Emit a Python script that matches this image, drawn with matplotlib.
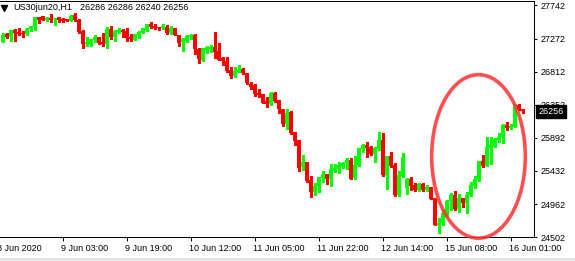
import numpy as np
import matplotlib.pyplot as plt
from matplotlib.patches import Ellipse, Rectangle
from matplotlib.lines import Line2D

plt.rcParams['font.family'] = ['Liberation Sans', 'DejaVu Sans']

# H1 candles, US30, 8-16 Jun 2020
opens = [27230, 27333, 27300, 27393, 27370, 27356, 27337, 27403, 27439, 27579,
         27589, 27533, 27561, 27543, 27571, 27547, 27543, 27523, 27603, 27533,
         27379, 27194, 27194, 27254, 27291, 27230, 27198, 27407, 27300, 27361,
         27393, 27384, 27300, 27254, 27323, 27347, 27393, 27477, 27453, 27431,
         27425, 27431, 27347, 27417, 27323, 27222, 27244, 27291, 27323, 27128,
         26975, 27114, 27128, 27152, 27100, 27007, 26961, 26835, 26751, 26803,
         26845, 26789, 26640, 26626, 26518, 26500, 26402, 26360, 26518, 26416,
         26291, 26081, 26245, 25965, 25858, 25485, 25555, 25300, 25136, 25216,
         25324, 25384, 25310, 25430, 25449, 25495, 25533, 25579, 25324, 25509,
         25728, 25788, 25756, 25658, 25728, 25858, 25370, 25635, 25509, 25090,
         25356, 25184, 25310, 25230, 25160, 25244, 25160, 25206, 25044, 24672,
         24695, 24787, 25000, 25090, 24891, 25042, 24975, 25090, 25216, 25300,
         25565, 25502, 25746, 25764, 25858, 25893, 26067, 26021, 26044, 26347,
         26286]
highs = [27347, 27356, 27393, 27407, 27417, 27379, 27425, 27449, 27579, 27579,
         27589, 27571, 27617, 27557, 27579, 27557, 27547, 27603, 27626, 27547,
         27393, 27291, 27263, 27323, 27300, 27347, 27431, 27449, 27393, 27417,
         27407, 27417, 27333, 27337, 27384, 27425, 27477, 27509, 27473, 27431,
         27473, 27463, 27449, 27417, 27323, 27286, 27323, 27337, 27337, 27146,
         27146, 27174, 27184, 27370, 27216, 27021, 27021, 26873, 26873, 26905,
         26859, 26789, 26672, 26640, 26566, 26500, 26462, 26532, 26532, 26416,
         26291, 26286, 26263, 25965, 25858, 25649, 25555, 25356, 25254, 25337,
         25430, 25384, 25523, 25523, 25555, 25555, 25603, 25603, 25635, 25742,
         25802, 25826, 25774, 25764, 25974, 25960, 25635, 25695, 25541, 25425,
         25672, 25324, 25337, 25262, 25262, 25258, 25230, 25206, 25044, 24765,
         24881, 25021, 25114, 25146, 25104, 25044, 25136, 25276, 25356, 25558,
         25649, 25904, 25904, 25882, 25952, 26077, 26109, 26077, 26356, 26356,
         26286]
lows = [27230, 27277, 27244, 27240, 27323, 27300, 27323, 27384, 27393, 27495,
        27533, 27519, 27509, 27463, 27509, 27509, 27519, 27519, 27523, 27356,
        27138, 27174, 27174, 27230, 27198, 27174, 27138, 27268, 27244, 27347,
        27300, 27244, 27244, 27254, 27286, 27347, 27379, 27417, 27403, 27393,
        27407, 27333, 27333, 27323, 27174, 27104, 27222, 27268, 27058, 26937,
        26965, 27076, 27090, 27007, 26975, 26905, 26811, 26728, 26742, 26803,
        26775, 26635, 26570, 26472, 26454, 26379, 26323, 26347, 26393, 26239,
        26053, 26011, 25938, 25788, 25425, 25439, 25276, 25067, 25090, 25136,
        25276, 25244, 25216, 25416, 25402, 25471, 25453, 25314, 25314, 25499,
        25695, 25625, 25649, 25555, 25718, 25356, 25174, 25477, 25081, 25081,
        25346, 25100, 25160, 25150, 25150, 25150, 25150, 25035, 24672, 24564,
        24672, 24779, 24881, 24881, 24857, 24927, 24843, 25076, 25188, 25290,
        25485, 25502, 25519, 25760, 25830, 25823, 25998, 26011, 26044, 26277,
        26240]
closes = [27323, 27300, 27393, 27356, 27337, 27337, 27407, 27449, 27579, 27533,
          27533, 27557, 27533, 27557, 27533, 27523, 27523, 27593, 27533, 27370,
          27194, 27222, 27263, 27300, 27216, 27198, 27407, 27300, 27384, 27393,
          27370, 27286, 27268, 27337, 27370, 27425, 27477, 27439, 27417, 27417,
          27453, 27347, 27425, 27323, 27216, 27268, 27310, 27323, 27124, 26984,
          27138, 27152, 27160, 27090, 26975, 26965, 26821, 26751, 26821, 26835,
          26789, 26649, 26602, 26496, 26486, 26379, 26360, 26518, 26402, 26286,
          26081, 26231, 25960, 25848, 25471, 25555, 25290, 25136, 25216, 25337,
          25384, 25310, 25453, 25471, 25509, 25541, 25579, 25314, 25509, 25742,
          25788, 25753, 25658, 25751, 25858, 25370, 25635, 25499, 25090, 25370,
          25625, 25310, 25220, 25160, 25244, 25160, 25206, 25035, 24672, 24704,
          24835, 25011, 25090, 24891, 25048, 24972, 25090, 25230, 25310, 25558,
          25499, 25764, 25788, 25872, 25904, 26067, 26026, 26058, 26347, 26291,
          26256]

price_ticks = [24502, 24962, 25432, 25892, 26352, 26812, 27272, 27742]
time_bars = [-1, 15, 31, 47, 63, 79, 95, 111, 127]
time_labels = ['8 Jun 2020', '9 Jun 03:00', '9 Jun 19:00', '10 Jun 12:00',
               '11 Jun 05:00', '11 Jun 22:00', '12 Jun 14:00', '15 Jun 08:00',
               '16 Jun 01:00']
symbol = 'US30jun20,H1'
last_ohlc = '26286 26286 26240 26256'
last_price = 26256

o = np.array(opens)
h = np.array(highs)
l = np.array(lows)
c = np.array(closes)
x = np.arange(len(o))

fig = plt.figure(figsize=(5.75, 2.61), dpi=100)
ax = fig.add_axes([0, 23.7 / 261, 534 / 575, 236.8 / 261])

cols = np.where(c >= o, '#00ff00', '#ff0000')
ax.vlines(x, l, h, colors=cols, lw=0.75, antialiased=False, zorder=2)
body = np.maximum(np.abs(c - o), 12)
ax.bar(x, body, bottom=np.minimum(o, c), width=0.62, color=cols,
       lw=0, antialiased=False, zorder=3)

ax.set_xlim(-0.625, 132.875)
ax.set_ylim(24500, 27805)

ax.spines['left'].set_visible(False)
for s in ['top', 'right', 'bottom']:
    ax.spines[s].set_linewidth(0.75)
    ax.spines[s].set_color('black')

ax.yaxis.tick_right()
ax.set_yticks(price_ticks)
ax.set_yticklabels([str(v) for v in price_ticks])
ax.tick_params(axis='y', direction='out', length=2.3, width=0.75, pad=2.5,
               labelsize=6.5, colors='black')

ax.set_xticks([b for b in time_bars if b >= 0])
ax.set_xticklabels([])
ax.tick_params(axis='x', direction='out', length=3, width=0.75)
for b, lab in zip(time_bars, time_labels):
    ax.text(b - 0.3, -0.03, lab, transform=ax.get_xaxis_transform(),
            ha='left', va='top', fontsize=6.5, clip_on=False)

# current price tag
ax.text(1.008, last_price, str(last_price), transform=ax.get_yaxis_transform(),
        ha='left', va='center', fontsize=6.5, color='white', zorder=10,
        bbox=dict(boxstyle='square,pad=0.22', fc='black', ec='black'),
        clip_on=False)

# hand-drawn style ellipse
ax.add_patch(Ellipse((119, 25629), 23.4, 2282, fill=False,
                     ec='#ff3030', lw=2.6, alpha=0.85, clip_on=False, zorder=6))

# header
fig.add_artist(Line2D([3.8 / 575], [1 - 8.3 / 261], marker='v', ms=4.5,
                      color='black', transform=fig.transFigure))
fig.text(13 / 575, 1 - 7.5 / 261, symbol, va='center', ha='left', fontsize=6.5)
fig.text(80 / 575, 1 - 7.5 / 261, last_ohlc, va='center', ha='left', fontsize=6.5)

fig.add_artist(Rectangle((0, 0), 1, 3 / 261, transform=fig.transFigure,
                         color='#e4e4e4', lw=0))

fig.savefig('out.png', dpi=100)
